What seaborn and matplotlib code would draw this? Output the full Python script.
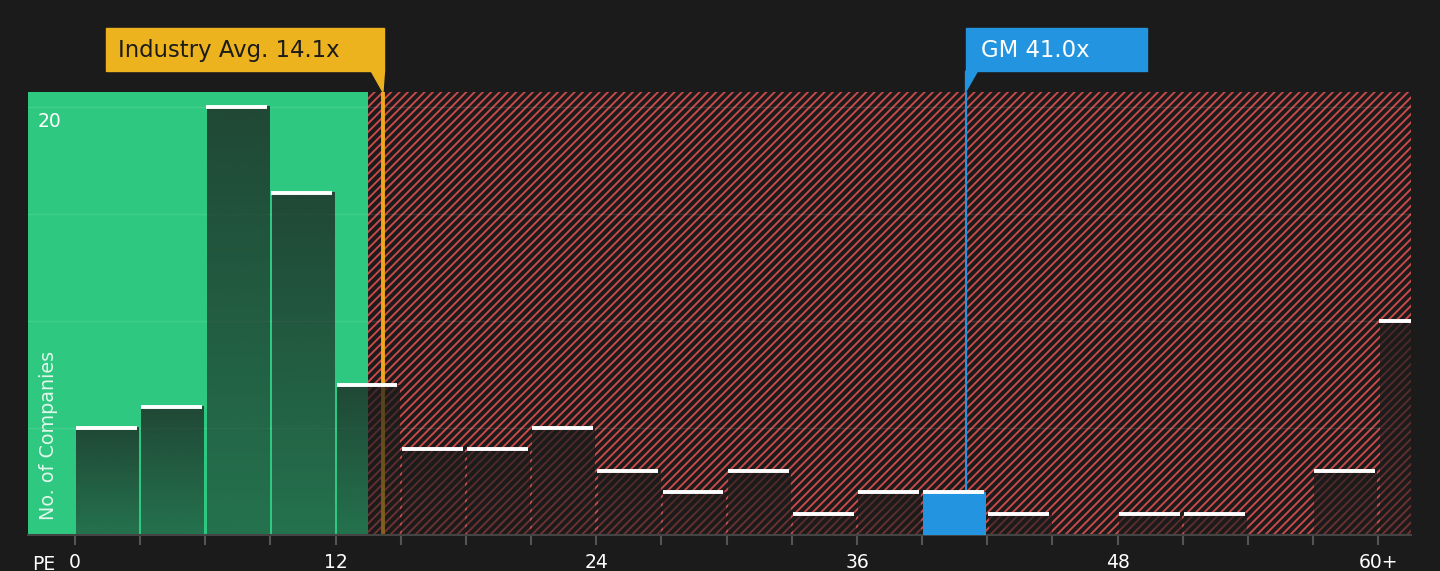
import numpy as np
import pandas as pd
import matplotlib
matplotlib.use("Agg")
import matplotlib.pyplot as plt
import matplotlib.transforms as mtransforms
from matplotlib.patches import Rectangle, Polygon
import seaborn as sns

# PE histogram data (bins of width 3, last bin is 60+)
bin_edges = [0, 3, 6, 9, 12, 15, 18, 21, 24, 27, 30, 33, 36, 39, 42, 45, 48, 51, 54, 57, 60, 63]
counts = [5, 6, 20, 16, 7, 4, 4, 5, 3, 2, 3, 1, 2, 2, 1, 0, 1, 1, 0, 3, 10]
tick_positions = [0, 3, 6, 9, 12, 15, 18, 21, 24, 27, 30, 33, 36, 39, 42, 45, 48, 51, 54, 57, 60]
tick_labels = ["0", "", "", "", "12", "", "", "", "24", "", "", "", "36", "", "", "", "48", "", "", "", "60+"]
y_grid = [5, 10, 15, 20]
y_labels = ["", "", "", "20"]

industry_avg = 14.1
company_pe = 41.0
company_name = "GM"
fair_limit = 13.5

BG = "#1b1b1b"
GREEN = "#2ec880"
RED = "#c84a4a"
ORANGE = "#efa81d"
BOX_YELLOW = "#edb31e"
BLUE = "#2394e0"

plt.rcParams["hatch.linewidth"] = 1.4

fig = plt.figure(figsize=(14.4, 5.71), dpi=100, facecolor=BG)
ax = fig.add_axes([0.0194, 0.063, 0.9604, 0.776])
ax.set_facecolor(BG)

xmin, xmax = -2.16, 61.5

# background zones
ax.axvspan(xmin, fair_limit, color=GREEN, lw=0, zorder=0)
ax.axvspan(fair_limit, 63, facecolor=BG, edgecolor=RED, hatch="////", lw=0, zorder=0)

ax.axvline(industry_avg + 0.08, color=ORANGE, lw=2.8, zorder=1)
ax.axvline(company_pe, color=BLUE, lw=1.5, zorder=1)

df = pd.DataFrame({"pe": [e + 1.5 for e in bin_edges[:-1]], "count": counts})
sns.histplot(data=df, x="pe", weights="count", bins=bin_edges, shrink=0.96,
             color=BG, edgecolor="none", alpha=1, ax=ax, zorder=2)

# gradient fill for bars
bars = ax.containers[0]
grad = np.zeros((64, 1, 4))
grad[..., :3] = matplotlib.colors.to_rgb(BG)
grad[:, 0, 3] = np.linspace(0.74, 0.5, 64)
for rect in bars:
    x0, w, h = rect.get_x(), rect.get_width(), rect.get_height()
    if h <= 0:
        continue
    if x0 <= company_pe < x0 + w + 0.2:
        rect.set_facecolor(BLUE)
        rect.set_zorder(3)
        continue
    rect.set_alpha(0)
    ax.imshow(grad, extent=[x0, x0 + w, 0, h], origin="upper", aspect="auto",
              interpolation="bilinear", zorder=2)

# white caps on top of each bar
lefts = np.array(bin_edges[:-1], dtype=float)
cnt = np.array(counts, dtype=float)
keep = cnt > 0
ax.hlines(cnt[keep], lefts[keep] + 0.05, lefts[keep] + 2.85, color="white", lw=2.8, zorder=4)

ax.set_xlim(xmin, xmax)
ax.set_ylim(0, 20.7)

ax.set_yticks(y_grid)
ax.set_yticklabels([])
ax.tick_params(axis="y", length=0)
ax.yaxis.grid(True, color="white", alpha=0.1, lw=1)
ax.set_axisbelow(True)

ax.set_xticks(tick_positions)
ax.set_xticklabels(tick_labels)
ax.tick_params(axis="x", colors="#555555", length=7, width=1.5, pad=6,
               labelcolor="white", labelsize=13.5)
for s in ["top", "left", "right"]:
    ax.spines[s].set_visible(False)
ax.spines["bottom"].set_color("#444444")
ax.spines["bottom"].set_linewidth(1.5)
ax.set_xlabel("")
ax.set_ylabel("")

trans = mtransforms.blended_transform_factory(ax.transAxes, ax.transData)
for yv, lab in zip(y_grid, y_labels):
    if lab:
        ax.text(0.007, yv - 0.22, lab, transform=trans, color="white", fontsize=13.5,
                ha="left", va="top")

ax.text(0.003, -0.066, "PE", transform=ax.transAxes, color="white", fontsize=13.5,
        ha="left", va="center")
ax.text(0.015, 0.034, "No. of Companies", transform=ax.transAxes, color="white",
        alpha=0.85, fontsize=13.8, rotation=90, ha="center", va="bottom")

# annotation boxes
bt = mtransforms.blended_transform_factory(ax.transData, ax.transAxes)
ax.add_patch(Rectangle((industry_avg - 12.65, 1.047), 12.8, 0.097, transform=bt,
                       color=BOX_YELLOW, clip_on=False, zorder=5))
ax.add_patch(Polygon([(industry_avg - 0.46, 1.047), (industry_avg + 0.15, 1.047),
                      (industry_avg + 0.08, 1.0)], closed=True, transform=bt,
                     color=BOX_YELLOW, clip_on=False, zorder=5))
ax.text(industry_avg - 12.1, 1.093, f"Industry Avg. {industry_avg:.1f}x", transform=bt,
        color="#1b1b1b", fontsize=16.4, ha="left", va="center", zorder=6, clip_on=False)

ax.add_patch(Rectangle((company_pe, 1.047), 8.37, 0.097, transform=bt,
                       color=BLUE, clip_on=False, zorder=5))
ax.add_patch(Polygon([(company_pe, 1.047), (company_pe + 0.55, 1.047),
                      (company_pe, 1.0)], closed=True, transform=bt,
                     color=BLUE, clip_on=False, zorder=5))
ax.text(company_pe + 0.72, 1.093, f"{company_name} {company_pe:.1f}x", transform=bt,
        color="white", fontsize=16.4, ha="left", va="center", zorder=6, clip_on=False)

fig.savefig("out.png", dpi=100, facecolor=BG)
